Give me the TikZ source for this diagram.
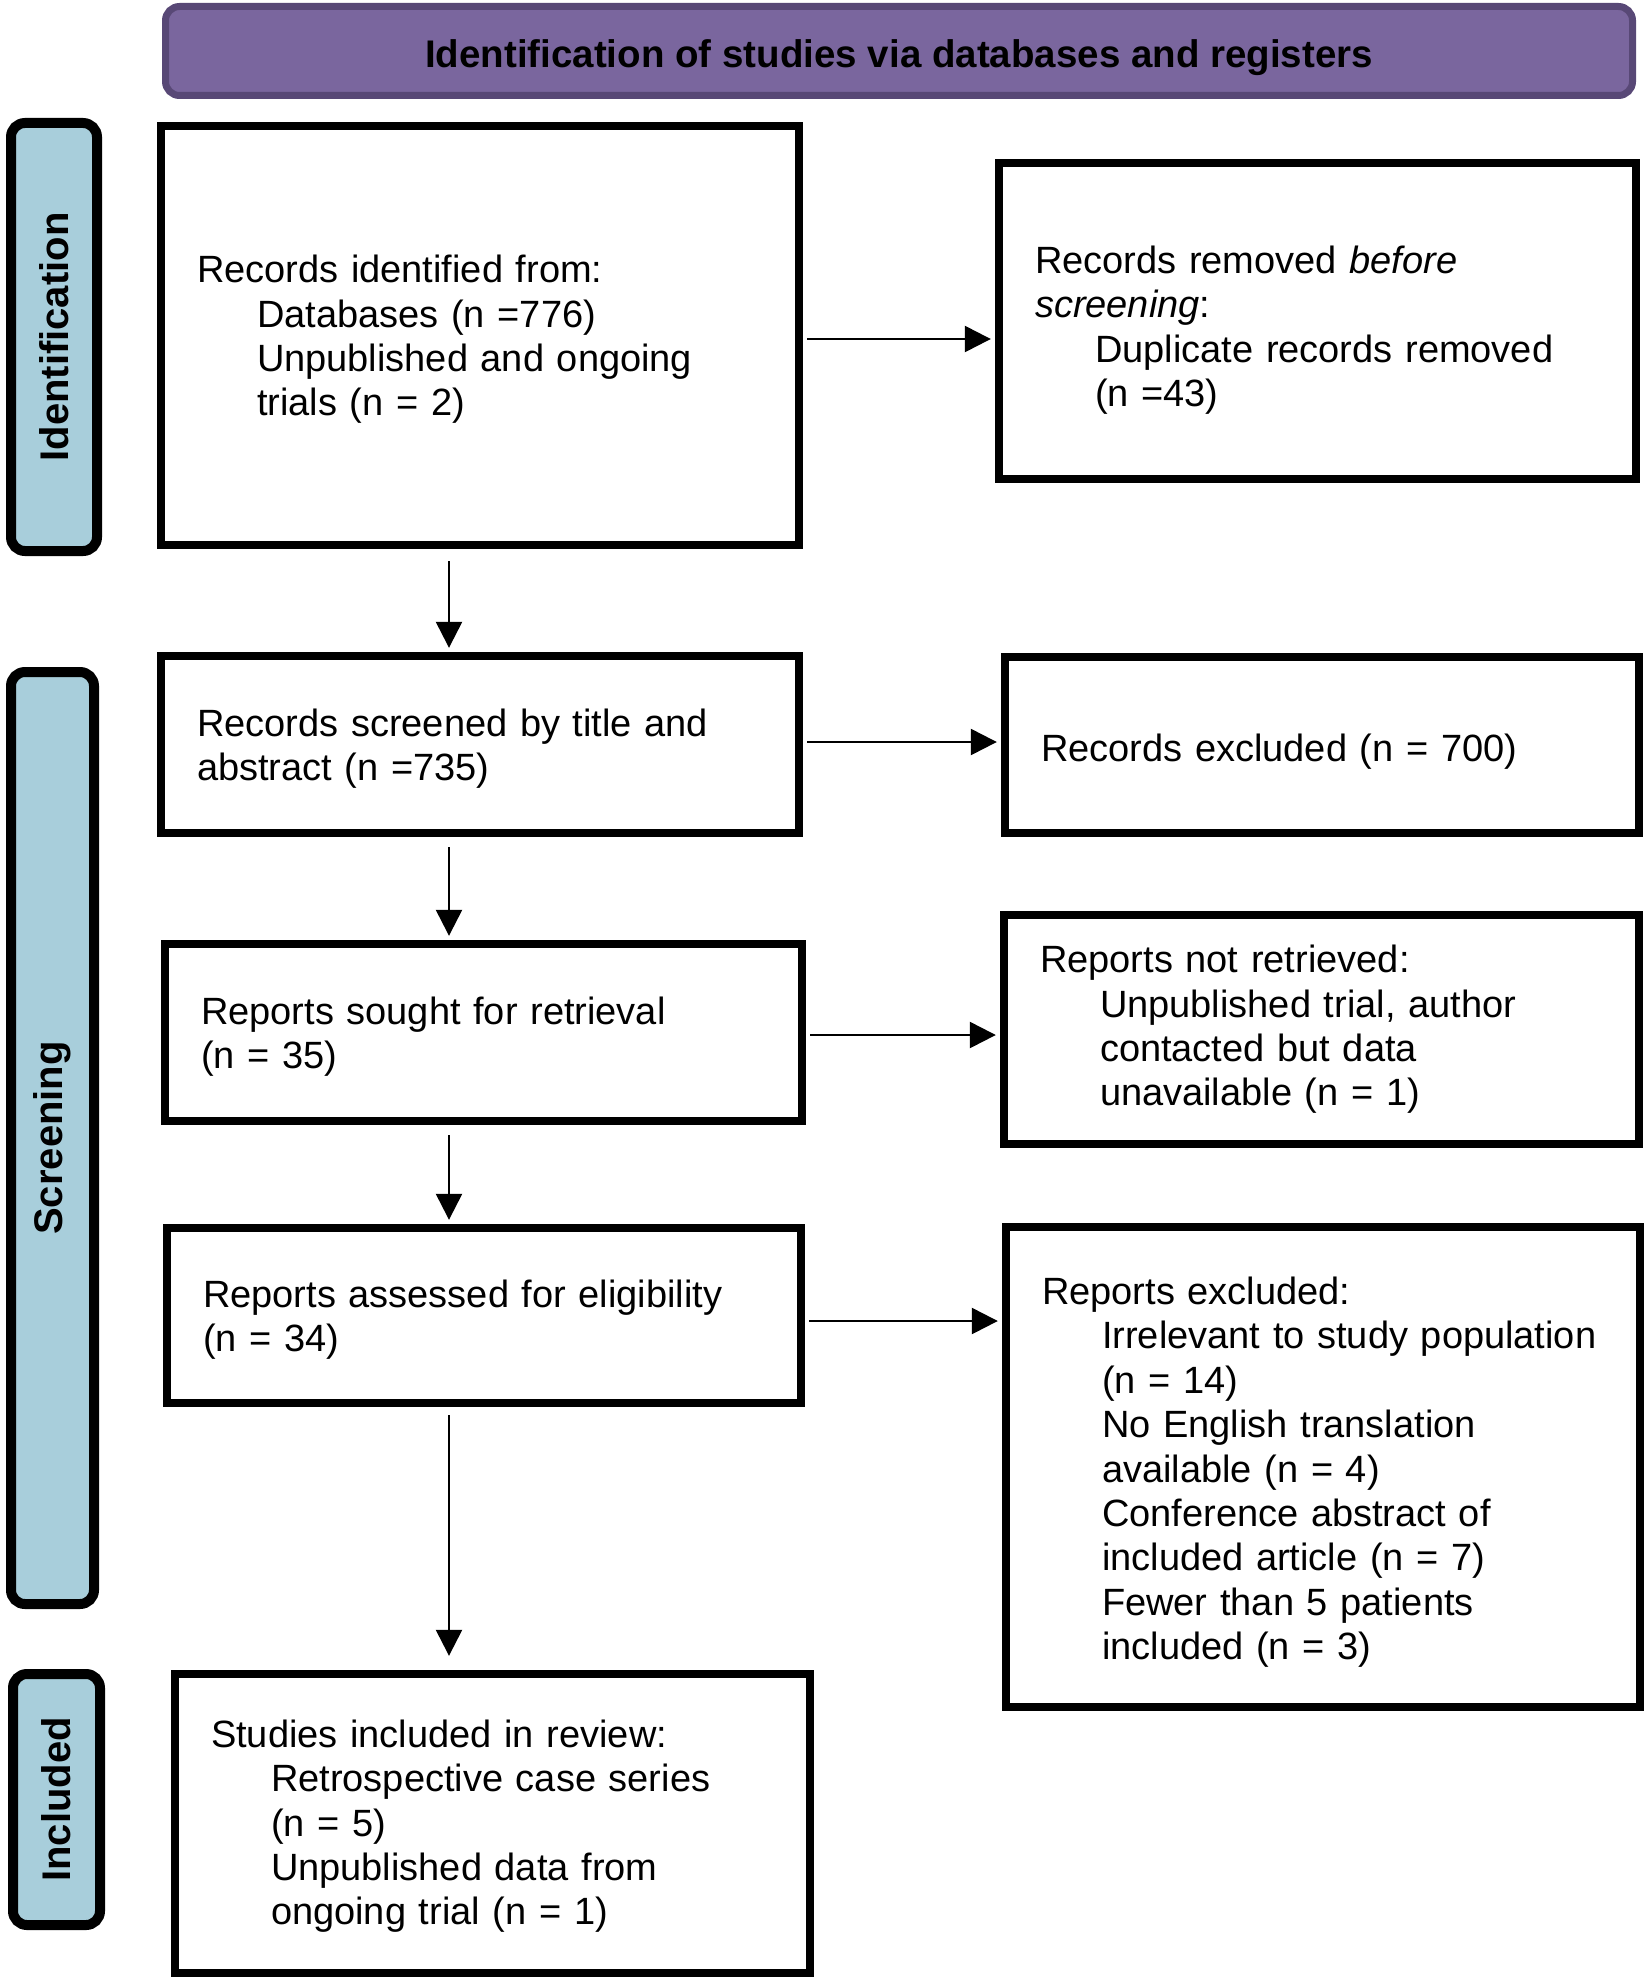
\documentclass[tikz,border=0pt]{standalone}
\usepackage{fontspec}
\setmainfont{Liberation Sans}
\usetikzlibrary{arrows.meta,calc}
\definecolor{hdrfill}{HTML}{7A669E}
\definecolor{hdrdraw}{HTML}{584876}
\definecolor{sidefill}{HTML}{A8CEDB}
\newcommand\indentA{\hspace*{30pt}}
\newcommand\topgap[1]{\rule{0pt}{#1}}
\newcommand\flowbox[6]{\node[box, minimum width={(#4-#2-8)*0.5pt}, minimum height={(#5-#3-8)*0.5pt}, text width={(#4-#2-8)*0.5pt-36pt}] (#1) at ({(#2+#4)/2},{(#3+#5)/2}) {#6};}
\newcommand\sidebox[6]{\node[side, minimum width={(#5-#3-10)*0.5pt}, minimum height={(#4-#2-10)*0.5pt}] (#1) at ({(#2+#4)/2},{(#3+#5)/2}) {#6};}
\tikzset{
  box/.style={draw, line width=4.2pt, rectangle, align=left, inner xsep=18pt, inner ysep=0pt,
    font=\fontsize{19pt}{22.2pt}\selectfont},
  side/.style={draw, line width=5pt, fill=sidefill, rounded corners=7pt, rotate=90, inner sep=0pt,
    font=\bfseries\fontsize{20pt}{24pt}\selectfont},
  hdr/.style={draw=hdrdraw, line width=3.5pt, fill=hdrfill, rounded corners=7pt, inner sep=0pt,
    font=\bfseries\fontsize{19.25pt}{23pt}\selectfont},
  arr/.style={line width=1.2pt, -{Triangle[length=13pt,width=13pt]}}
}
\begin{document}
\begin{tikzpicture}[x=0.5pt,y=-0.5pt]
\useasboundingbox (0,0) rectangle (1649,1980);
\node[hdr, text height=19pt, text depth=2pt, minimum width={(1636-162-7)*0.5pt}, minimum height={(99-3-7)*0.5pt}] (hdr) at (899,51) {Identification of studies via databases and registers};

\sidebox{lid}{6}{118}{102}{556}{Identification}
\sidebox{lsc}{6}{667}{99}{1609}{Screening}
\sidebox{lin}{8}{1669}{105}{1930}{Included}

\flowbox{b1}{157}{122}{803}{549}{\topgap{17.8pt}Records identified from:\\\indentA Databases (n =776)\\\indentA Unpublished and ongoing\\\indentA trials (n = 2)}
\flowbox{b2}{995}{159}{1640}{483}{\topgap{22.8pt}Records removed \textit{before}\\\textit{screening}:\\\indentA Duplicate records removed\\\indentA (n =43)}
\flowbox{b3}{157}{652}{803}{837}{\topgap{17.8pt}Records screened by title and\\abstract (n =735)}
\flowbox{b4}{1001}{653}{1643}{837}{\topgap{20.4pt}Records excluded (n = 700)}
\flowbox{b5}{161}{940}{806}{1125}{\topgap{17.8pt}Reports sought for retrieval\\(n = 35)}
\flowbox{b6}{1000}{911}{1643}{1148}{Reports not retrieved:\\\indentA Unpublished trial, author\\\indentA contacted but data\\\indentA unavailable (n = 1)}
\flowbox{b7}{163}{1224}{805}{1407}{\topgap{17.8pt}Reports assessed for eligibility\\(n = 34)}
\flowbox{b8}{1002}{1223}{1644}{1711}{\topgap{19pt}Reports excluded:\\\indentA Irrelevant to study population\\\indentA (n = 14)\\\indentA No English translation\\\indentA available (n = 4)\\\indentA Conference abstract of\\\indentA included article (n = 7)\\\indentA Fewer than 5 patients\\\indentA included (n = 3)}
\flowbox{b9}{171}{1670}{814}{1977}{\topgap{16.6pt}Studies included in review:\\\indentA Retrospective case series\\\indentA (n = 5)\\\indentA Unpublished data from\\\indentA ongoing trial (n = 1)}

\coordinate (spine) at (449,0);
% horizontal arrows
\draw[arr] ($(b1.east)+(4,3.5)$) -- ($(b1.east -| b2.west)+(-4,3.5)$);
\draw[arr] ($(b3.east)+(4,-2.5)$) -- ($(b3.east -| b4.west)+(-4,-2.5)$);
\draw[arr] ($(b5.east)+(4,2.5)$) -- ($(b5.east -| b6.west)+(-4,2.5)$);
\draw[arr] ($(b7.east)+(4,5.5)$) -- ($(b7.east -| b8.west)+(-4,5.5)$);
% vertical arrows
\draw[arr] ($(b1.south -| spine)+(0,12)$) -- ($(b3.north -| spine)+(0,-4)$);
\draw[arr] ($(b3.south -| spine)+(0,10)$) -- ($(b5.north -| spine)+(0,-4)$);
\draw[arr] ($(b5.south -| spine)+(0,10)$) -- ($(b7.north -| spine)+(0,-4)$);
\draw[arr] ($(b7.south -| spine)+(0,8)$) -- ($(b9.north -| spine)+(0,-14)$);
\end{tikzpicture}
\end{document}
